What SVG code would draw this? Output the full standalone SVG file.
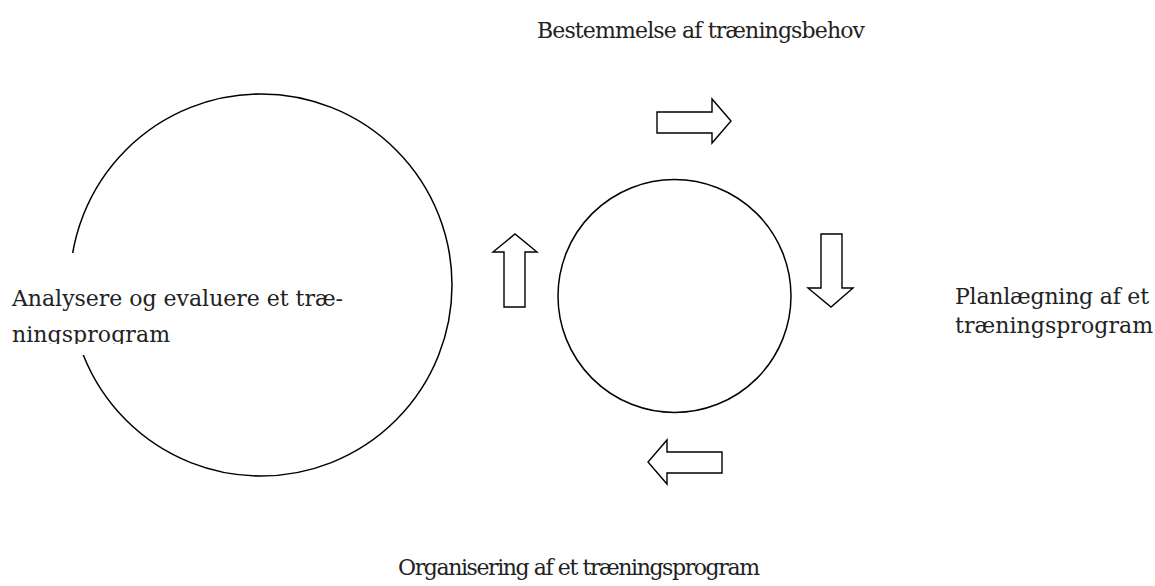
<svg xmlns="http://www.w3.org/2000/svg" width="1155" height="586" viewBox="0 0 1155 586">
<style>
.txt{font-family:"DejaVu Serif","Liberation Serif",serif;font-size:22px;fill:#222}
.shape{fill:none;stroke:#000;stroke-width:1.5}
.arrow{fill:#fff;stroke:#000;stroke-width:1.4;stroke-linejoin:miter}
</style>
<defs>
<clipPath id="lblclip"><rect x="0" y="253" width="360" height="91"/></clipPath>
</defs>
<rect width="1155" height="586" fill="#fff"/>
<g id="big-circle">
<circle class="shape" cx="261" cy="285" r="191"/>
</g>
<g id="small-circle">
<circle class="shape" cx="674.5" cy="296" r="116.5"/>
</g>
<g id="connectors">
<path class="arrow" d="M657,112 H712 V99 L731,121 L712,143 V133 H657 Z"/>
<path class="arrow" d="M821,234 H842 V288 H853 L831,307 L808,288 H821 Z"/>
<path class="arrow" d="M722,452 V473 H667 V484 L648,462 L667,440 V452 Z"/>
<path class="arrow" d="M504,307 V252 H493 L515,234 L537,252 H525 V307 Z"/>
</g>
<g id="label-bestemmelse">
<text class="txt" x="537" y="38" textLength="328">Bestemmelse af træningsbehov</text>
</g>
<g id="label-planlaegning">
<text class="txt" x="955" y="304" textLength="194">Planlægning af et</text>
<text class="txt" x="955" y="333" textLength="198">træningsprogram</text>
</g>
<g id="label-organisering">
<text class="txt" x="398" y="575" textLength="362">Organisering af et træningsprogram</text>
</g>
<g id="label-analysere">
<rect x="0" y="253" width="360" height="102" fill="#fff"/>
<g clip-path="url(#lblclip)">
<text class="txt" x="12" y="306" textLength="331">Analysere og evaluere et træ-</text>
<text class="txt" x="12" y="342" textLength="158">ningsprogram</text>
</g>
</g>
</svg>
